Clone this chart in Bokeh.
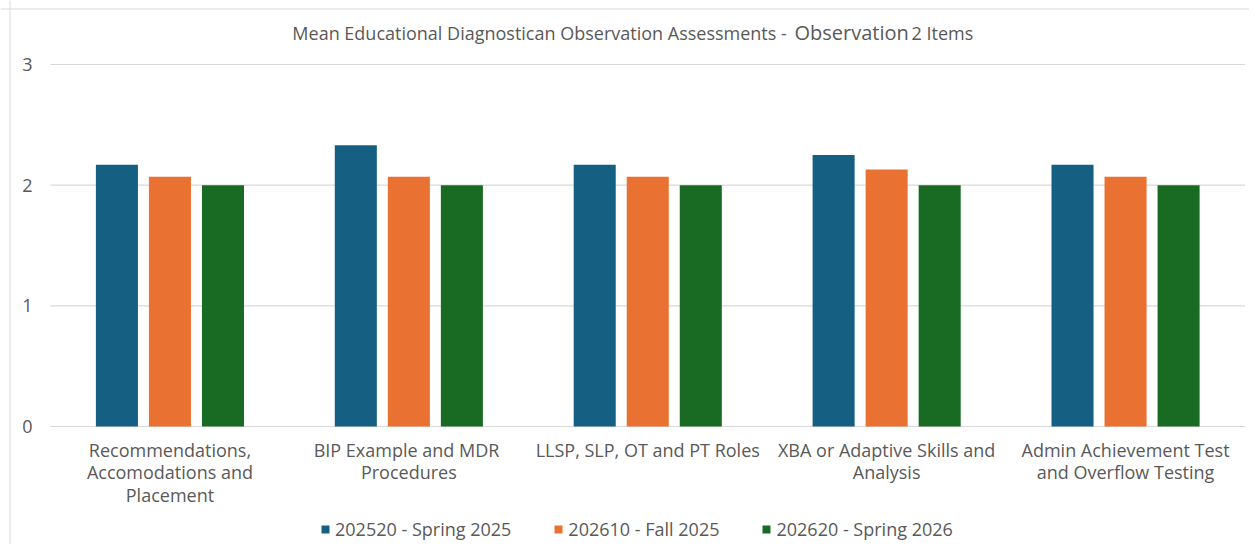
import numpy as np
from bokeh.plotting import figure
from bokeh.models import ColumnDataSource, Range1d, Legend, LegendItem, Label, Span
from bokeh.transform import dodge
from bokeh.embed import file_html
from bokeh.resources import INLINE
from bokeh.core.properties import value

categories = [
    "Recommendations,\nAccomodations and\nPlacement",
    "BIP  Example and MDR\nProcedures",
    "LLSP, SLP, OT and PT Roles",
    "XBA or Adaptive Skills and\nAnalysis",
    "Admin Achievement Test\nand Overflow Testing",
]
series_names = ["202520 - Spring 2025", "202610 - Fall 2025", "202620 - Spring 2026"]
spring_2025 = [2.17, 2.33, 2.17, 2.25, 2.17]
fall_2025 = [2.07, 2.07, 2.07, 2.13, 2.07]
spring_2026 = [2.0, 2.0, 2.0, 2.0, 2.0]
y_ticks = [0, 1, 2, 3]
y_tick_labels = ["0", "1", "2", "3"]
title_parts = ["Mean Educational Diagnostican Observation Assessments - ", "Observation", "2 Items"]

colors = ["#156082", "#E97132", "#196B24"]
FONT = "Open Sans"
TXT = "#595959"
GRID = "#d9d9d9"

W, H = 1249, 544
# pixel layout of the plotting area inside the canvas
LEFT, TOP, BOTTOM = 50, 64, 118
RIGHT = W - 1244.5
n = len(categories)
px_per_x = (W - LEFT - RIGHT) / n
px_per_y = (H - TOP - BOTTOM) / 3.0


def px_x(px):
    return (px - LEFT) / px_per_x


def px_y(py):
    return (H - BOTTOM - py) / px_per_y


xc = np.arange(n) + 0.5
src = ColumnDataSource(dict(xc=xc, cats=categories, s1=spring_2025, s2=fall_2025, s3=spring_2026))

p = figure(
    width=W, height=H,
    x_range=Range1d(px_x(0), px_x(W)),
    y_range=Range1d(px_y(H), px_y(0)),
    output_backend="svg", toolbar_location=None,
    min_border=0, x_axis_type=None, y_axis_type=None,
)
p.outline_line_color = None
p.background_fill_color = "white"
p.border_fill_color = "white"
p.xgrid.visible = False
p.ygrid.visible = False

# gridlines
p.segment(x0=0, x1=n, y0=y_ticks, y1=y_ticks, line_color=GRID, line_width=1.2)

# chart border (left and top)
p.add_layout(Span(location=px_x(9.5), dimension="height", line_color=GRID, line_width=1))
p.add_layout(Span(location=px_y(8.5), dimension="width", line_color=GRID, line_width=1))

offsets = [-0.222, 0.0, 0.222]
renderers = []
for key, off, col in zip(["s1", "s2", "s3"], offsets, colors):
    r = p.vbar(x=dodge("xc", off), top=key, width=0.176,
               source=src, fill_color=col, line_color=None)
    renderers.append(r)

# y tick labels
p.text(x=px_x(32), y=y_ticks, text=y_tick_labels, text_align="right", text_baseline="middle",
       text_font=value(FONT), text_font_size="18px", text_color=TXT)

# x category labels
p.text(x="xc", y=px_y(437), text="cats", source=src, text_align="center", text_baseline="top",
       text_font=value(FONT), text_font_size="18px", text_color=TXT, text_line_height=0.94)

# legend
items = [LegendItem(label=nm, renderers=[r]) for nm, r in zip(series_names, renderers)]
legend = Legend(items=items, orientation="horizontal", location=(320, 3),
                border_line_color=None, background_fill_alpha=0,
                label_text_font=FONT, label_text_font_size="18px", label_text_color=TXT,
                glyph_width=10, glyph_height=10, label_standoff=5, spacing=42,
                padding=2, margin=0)
p.add_layout(legend, "center")

# title
ty = px_y(32)
p.add_layout(Label(x=px_x(791), y=ty, text=title_parts[0], text_align="right", text_baseline="middle",
                   text_font=FONT, text_font_size="18px", text_color=TXT))
p.add_layout(Label(x=px_x(794), y=ty, text=title_parts[1], text_align="left", text_baseline="middle",
                   text_font=FONT, text_font_size="20px", text_color=TXT))
p.add_layout(Label(x=px_x(911), y=ty, text=title_parts[2], text_align="left", text_baseline="middle",
                   text_font=FONT, text_font_size="18px", text_color=TXT))

open("out.html", "w").write(file_html(p, INLINE))
